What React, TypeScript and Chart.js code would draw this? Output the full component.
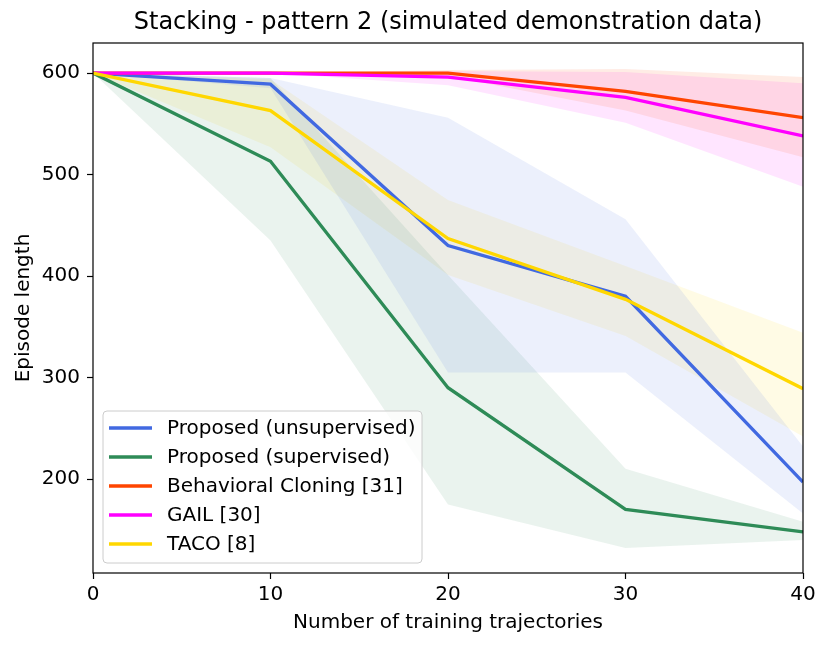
import { useEffect, useRef } from "react";
import { Chart, registerables } from "chart.js";

Chart.register(...registerables);

const trajectories = [0, 10, 20, 30, 40];
const yTicks = [200, 300, 400, 500, 600];

const unsupMean = [600, 589, 430, 380, 197];
const unsupUpper = [600, 595, 556, 456, 232];
const unsupLower = [600, 585, 305, 305, 166];

const supMean = [600, 513, 290, 170, 148];
const supUpper = [600, 595, 401, 210, 158];
const supLower = [600, 435, 175, 132, 140];

const bcMean = [600, 600, 600, 582, 556];
const bcUpper = [600, 600, 603, 604, 596];
const bcLower = [600, 600, 597, 563, 517];

const gailMean = [600, 600, 596, 576, 538];
const gailUpper = [600, 600, 602, 601, 590];
const gailLower = [600, 600, 588, 551, 488];

const tacoMean = [600, 563, 437, 377, 289];
const tacoUpper = [600, 594, 475, 410, 344];
const tacoLower = [600, 527, 401, 341, 242];

const methods = [
  { label: "Proposed (unsupervised)", color: "65,105,225", mean: unsupMean, upper: unsupUpper, lower: unsupLower },
  { label: "Proposed (supervised)", color: "46,139,87", mean: supMean, upper: supUpper, lower: supLower },
  { label: "Behavioral Cloning [31]", color: "255,69,0", mean: bcMean, upper: bcUpper, lower: bcLower },
  { label: "GAIL [30]", color: "255,0,255", mean: gailMean, upper: gailUpper, lower: gailLower },
  { label: "TACO [8]", color: "255,215,0", mean: tacoMean, upper: tacoUpper, lower: tacoLower },
];

const FONT = "'DejaVu Sans', sans-serif";

const pts = (vals: number[]) => vals.map((v, i) => ({ x: trajectories[i], y: v }));

const framePlugin = {
  id: "frame",
  afterDraw(chart: any) {
    const { ctx, chartArea: a } = chart;
    ctx.save();
    ctx.strokeStyle = "#000";
    ctx.lineWidth = 1.2;
    ctx.strokeRect(a.left, a.top, a.right - a.left, a.bottom - a.top);
    // title
    ctx.fillStyle = "#000";
    ctx.font = `24px ${FONT}`;
    ctx.textAlign = "center";
    ctx.textBaseline = "middle";
    ctx.fillText("Stacking - pattern 2 (simulated demonstration data)", (a.left + a.right) / 2, 23);
    ctx.restore();
  },
};

const legendPlugin = {
  id: "boxLegend",
  afterDatasetsDraw(chart: any) {
    const { ctx } = chart;
    const x0 = 103, y0 = 411, w = 319, h = 152, r = 4;
    ctx.save();
    ctx.beginPath();
    ctx.moveTo(x0 + r, y0);
    ctx.arcTo(x0 + w, y0, x0 + w, y0 + h, r);
    ctx.arcTo(x0 + w, y0 + h, x0, y0 + h, r);
    ctx.arcTo(x0, y0 + h, x0, y0, r);
    ctx.arcTo(x0, y0, x0 + w, y0, r);
    ctx.closePath();
    ctx.fillStyle = "rgba(255,255,255,0.8)";
    ctx.fill();
    ctx.strokeStyle = "#cccccc";
    ctx.lineWidth = 1;
    ctx.stroke();
    ctx.font = `20px ${FONT}`;
    ctx.textBaseline = "middle";
    ctx.textAlign = "left";
    methods.forEach((m, i) => {
      const y = 428 + i * 29;
      ctx.strokeStyle = `rgb(${m.color})`;
      ctx.lineWidth = 3.3;
      ctx.beginPath();
      ctx.moveTo(109, y);
      ctx.lineTo(152, y);
      ctx.stroke();
      ctx.fillStyle = "#000";
      ctx.fillText(m.label, 167, y + 1);
    });
    ctx.restore();
  },
};

export default function App() {
  const canvasRef = useRef<HTMLCanvasElement | null>(null);

  useEffect(() => {
    document.body.style.margin = "0";
    if (!canvasRef.current) return;

    const bands: any[] = [];
    methods.forEach((m) => {
      bands.push({
        label: m.label + " upper",
        data: pts(m.upper),
        borderWidth: 0,
        borderColor: "transparent",
        pointRadius: 0,
        fill: false,
        order: 20,
      });
      bands.push({
        label: m.label + " lower",
        data: pts(m.lower),
        borderWidth: 0,
        borderColor: "transparent",
        pointRadius: 0,
        backgroundColor: `rgba(${m.color},0.1)`,
        fill: "-1",
        order: 20,
      });
    });
    const lines = methods.map((m, i) => ({
      label: m.label,
      data: pts(m.mean),
      borderColor: `rgb(${m.color})`,
      borderWidth: 3.3,
      pointRadius: 0,
      fill: false,
      tension: 0,
      order: 10 - i,
    }));

    const chart = new Chart(canvasRef.current, {
      type: "line",
      data: { datasets: [...bands, ...lines] },
      options: {
        responsive: false,
        animation: false,
        layout: { padding: { top: 43, right: 27, left: 0, bottom: 0 } },
        plugins: { legend: { display: false }, tooltip: { enabled: false }, title: { display: false } },
        scales: {
          x: {
            type: "linear",
            min: 0,
            max: 40,
            afterBuildTicks: (s: any) => { s.ticks = trajectories.map((v) => ({ value: v })); },
            afterFit: (s: any) => { s.height = 75; },
            border: { display: false },
            grid: { drawOnChartArea: false, drawTicks: true, tickLength: 6, tickWidth: 1.2, tickColor: "#000" },
            ticks: { color: "#000", font: { family: FONT, size: 20 }, padding: 4, maxRotation: 0 },
            title: { display: true, text: "Number of training trajectories", color: "#000", font: { family: FONT, size: 20 }, padding: { top: 0, bottom: 13 } },
          },
          y: {
            type: "linear",
            min: 107.4,
            max: 629.6,
            afterBuildTicks: (s: any) => { s.ticks = yTicks.map((v) => ({ value: v })); },
            afterFit: (s: any) => { s.width = 93; },
            border: { display: false },
            grid: { drawOnChartArea: false, drawTicks: true, tickLength: 6, tickWidth: 1.2, tickColor: "#000" },
            ticks: { color: "#000", font: { family: FONT, size: 20 }, padding: 7 },
            title: { display: true, text: "Episode length", color: "#000", font: { family: FONT, size: 20 }, padding: { top: 12, bottom: 0 } },
          },
        },
      },
      plugins: [framePlugin, legendPlugin],
    } as any);

    return () => chart.destroy();
  }, []);

  return (
    <div style={{ width: 830, height: 648, background: "#fff" }}>
      <canvas ref={canvasRef} width={830} height={648}></canvas>
    </div>
  );
}
